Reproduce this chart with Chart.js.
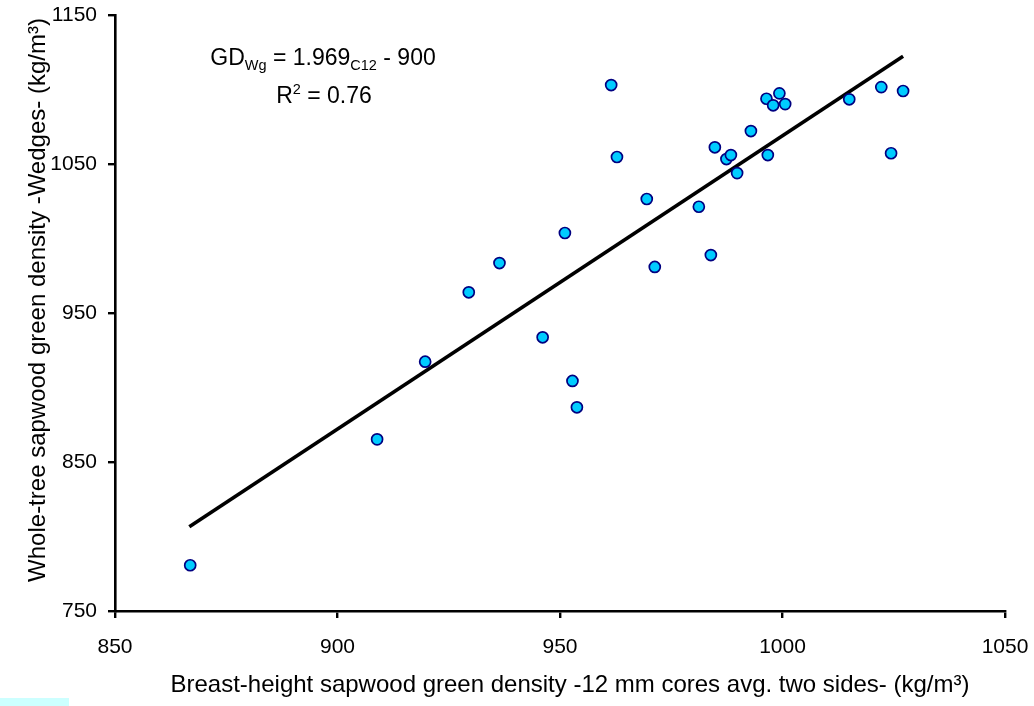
<!DOCTYPE html>
<html>
<head>
<meta charset="utf-8">
<script src="https://cdn.jsdelivr.net/npm/chart.js@4.4.1/dist/chart.umd.min.js"></script>
<style>
  html, body { margin: 0; padding: 0; background: #ffffff; }
  #wrap { width: 1034px; height: 706px; position: relative; }
</style>
</head>
<body>
<div id="wrap"><canvas id="c" width="1034" height="706"></canvas></div>
<script>
// ---- Data ----
const xValues = [866.9, 908.9, 919.7, 929.5, 936.4, 946.1, 951.1, 952.8, 953.8, 961.5,
                 962.8, 969.5, 971.3, 981.2, 983.9, 984.8, 987.4, 988.4, 989.8, 992.9,
                 996.7, 996.4, 997.9, 999.3, 1000.6, 1015.0, 1022.2, 1024.4, 1027.1];
const yValues = [780.7, 865.2, 917.3, 963.9, 983.5, 933.7, 1003.7, 904.4, 886.7, 1103.0,
                 1054.7, 1026.5, 980.9, 1021.3, 988.9, 1061.2, 1053.3, 1056.0, 1043.9, 1072.1,
                 1056.0, 1093.8, 1089.4, 1097.4, 1090.2, 1093.4, 1101.6, 1057.2, 1099.0];
// Regression line endpoints (GD = 1.969 x - 900) at the data extremes
const trendX = [866.7, 1027.1];
const trendY = [806.5, 1122.3];
const xTicks = [850, 900, 950, 1000, 1050];
const yTicks = [750, 850, 950, 1050, 1150];
const xTitle = 'Breast-height sapwood green density -12 mm cores avg. two sides- (kg/m\u00B3)';
const yTitle = 'Whole-tree sapwood green density -Wedges- (kg/m\u00B3)';

const FONT = '"Liberation Sans", Arial, Helvetica, sans-serif';

const points = xValues.map((x, i) => ({ x: x, y: yValues[i] }));
const trend = trendX.map((x, i) => ({ x: x, y: trendY[i] }));

const annotationPlugin = {
  id: 'annot',
  beforeDraw(chart) {
    const c = chart.ctx;
    c.save();
    c.fillStyle = '#ccffff';
    c.fillRect(0, 698, 69, 8);
    c.restore();
  },
  afterDraw(chart) {
    const c = chart.ctx;
    const area = chart.chartArea;
    c.save();
    c.fillStyle = '#000';
    c.textBaseline = 'alphabetic';
    c.textAlign = 'left';
    const big = '23px ' + FONT, small = '14.5px ' + FONT;
    function drawRuns(runs, cx, baseY) {
      let w = 0;
      runs.forEach(r => { c.font = r[1]; w += c.measureText(r[0]).width; });
      let x = cx - w / 2;
      runs.forEach(r => {
        c.font = r[1];
        c.fillText(r[0], x, baseY + r[2]);
        x += c.measureText(r[0]).width;
      });
    }
    drawRuns([['GD', big, 0], ['Wg', small, 5], [' = 1.969', big, 0], ['C12', small, 5], [' - 900', big, 0]], 323, 65);
    drawRuns([['R', big, 0], ['2', small, -9], [' = 0.76', big, 0]], 324, 103);

    // Axis titles
    c.font = '24px ' + FONT;
    c.textAlign = 'center';
    c.fillText(xTitle, (area.left + area.right) / 2 + 10, 692);
    c.translate(45, (area.top + area.bottom) / 2 - 13);
    c.rotate(-Math.PI / 2);
    c.fillText(yTitle, 0, 0);
    c.restore();
  }
};

new Chart(document.getElementById('c'), {
  type: 'scatter',
  data: {
    datasets: [
      {
        type: 'line',
        data: trend,
        borderColor: '#000000',
        borderWidth: 3.6,
        pointRadius: 0,
        fill: false,
        order: 1
      },
      {
        data: points,
        backgroundColor: '#00CCFF',
        borderColor: '#000080',
        borderWidth: 1.7,
        pointRadius: 5.5,
        order: 0
      }
    ]
  },
  options: {
    responsive: false,
    animation: false,
    devicePixelRatio: 1,
    layout: { padding: { left: 0, top: 15, right: 29, bottom: 0 } },
    plugins: { legend: { display: false }, tooltip: { enabled: false } },
    scales: {
      x: {
        type: 'linear',
        min: 850, max: 1050,
        afterFit(s) { s.height = 95; s.paddingLeft = 0; s.paddingRight = 0; },
        afterBuildTicks(s) { s.ticks = xTicks.map(v => ({ value: v })); },
        border: { display: true, color: '#000', width: 2.6 },
        grid: { drawOnChartArea: false, drawTicks: true, color: '#000', lineWidth: 2.4, tickLength: 7 },
        ticks: { color: '#000', font: { family: FONT, size: 21 }, padding: 17, maxRotation: 0,
                 callback: v => String(v) }
      },
      y: {
        type: 'linear',
        min: 750, max: 1150,
        afterFit(s) { s.width = 115; s.paddingTop = 0; s.paddingBottom = 0; },
        afterBuildTicks(s) { s.ticks = yTicks.map(v => ({ value: v })); },
        border: { display: true, color: '#000', width: 2.6 },
        grid: { drawOnChartArea: false, drawTicks: true, color: '#000', lineWidth: 2.4, tickLength: 7 },
        ticks: { color: '#000', font: { family: FONT, size: 21 }, padding: 11,
                 callback: v => String(v) }
      }
    }
  },
  plugins: [annotationPlugin]
});
</script>
</body>
</html>
